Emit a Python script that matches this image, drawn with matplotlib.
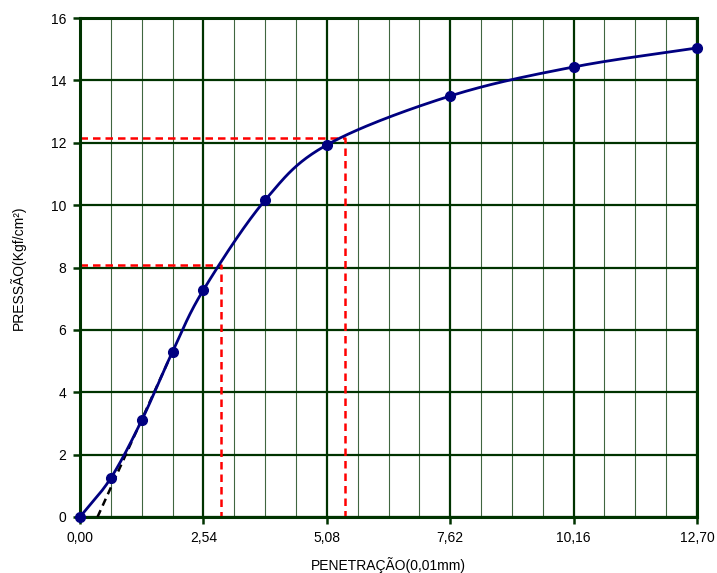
import numpy as np
import matplotlib
matplotlib.use("Agg")
import matplotlib.pyplot as plt
from matplotlib.ticker import FixedLocator, MultipleLocator

plt.rcParams['font.family'] = ['Liberation Sans', 'DejaVu Sans']

# Penetration (x) and pressure (y) readings
penetracao = [0.0, 0.635, 1.27, 1.905, 2.54, 3.81, 5.08, 7.62, 10.16, 12.70]
pressao = [0.0, 1.25, 3.1, 5.3, 7.28, 10.16, 11.93, 13.5, 14.43, 15.04]

x_ticks = [0.0, 2.54, 5.08, 7.62, 10.16, 12.70]
x_tick_labels = ["0,00", "2,54", "5,08", "7,62", "10,16", "12,70"]

# Corrected initial tangent (origin correction)
tangente_x = [0.36, 1.905]
tangente_y = [0.0, 5.3]

# Pressures read at the corrected 2,54 and 5,08 penetrations
leitura_x = [2.90, 5.455]
leitura_y = [8.08, 12.15]

GREEN = "#003300"


def smooth_curve(xs, ys, n=40):
    """Catmull-Rom spline through the points (smoothed line)."""
    p = np.column_stack([xs, ys]).astype(float)
    p = np.vstack([2 * p[0] - p[1], p, 2 * p[-1] - p[-2]])
    out = []
    t = np.linspace(0, 1, n)[:, None]
    for i in range(1, len(p) - 2):
        p0, p1, p2, p3 = p[i - 1], p[i], p[i + 1], p[i + 2]
        seg = 0.5 * ((2 * p1) + (-p0 + p2) * t +
                     (2 * p0 - 5 * p1 + 4 * p2 - p3) * t ** 2 +
                     (-p0 + 3 * p1 - 3 * p2 + p3) * t ** 3)
        out.append(seg)
    out = np.vstack(out)
    return out[:, 0], out[:, 1]


fig = plt.figure(figsize=(7.17, 5.73), dpi=100)
ax = fig.add_axes([80 / 717, 1 - 517 / 573, 617 / 717, 499 / 573])

ax.set_xlim(0, 12.70)
ax.set_ylim(0, 16)

# grid
ax.xaxis.set_major_locator(FixedLocator(x_ticks))
ax.xaxis.set_minor_locator(MultipleLocator(0.635))
ax.yaxis.set_major_locator(MultipleLocator(2))
ax.set_xticklabels(x_tick_labels)
ax.grid(which="major", color=GREEN, linewidth=1.6, zorder=0)
ax.grid(which="minor", axis="x", color=GREEN, linewidth=0.8, alpha=0.75, zorder=0)
ax.set_axisbelow(True)

for s in ax.spines.values():
    s.set_color(GREEN)
    s.set_linewidth(2.2)

ax.tick_params(which="major", direction="out", length=5, width=1.8, color=GREEN,
               labelsize=10, labelcolor="black", pad=5)
ax.tick_params(which="minor", length=0)

# red reading guides
for lx, ly in zip(leitura_x, leitura_y):
    ax.plot([0, lx, lx], [ly, ly, 0], color="#FF0000", linestyle=(0, (3, 2)),
            linewidth=1.8, zorder=2)

# tangent correction
ax.plot(tangente_x, tangente_y, color="black", linestyle=(0, (3, 2)),
        linewidth=1.8, zorder=3)

# curve
cx, cy = smooth_curve(penetracao, pressao)
ax.plot(cx, cy, color="#000080", linewidth=2, zorder=4)
ax.plot(penetracao, pressao, linestyle="none", marker="o", markersize=7,
        color="#000080", zorder=5, clip_on=False)

ax.set_xlabel("PENETRAÇÃO(0,01mm)", fontsize=10, labelpad=9)
ax.set_ylabel("PRESSÃO(Kgf/cm²)", fontsize=10, labelpad=18)

fig.savefig("out.png", dpi=100)
